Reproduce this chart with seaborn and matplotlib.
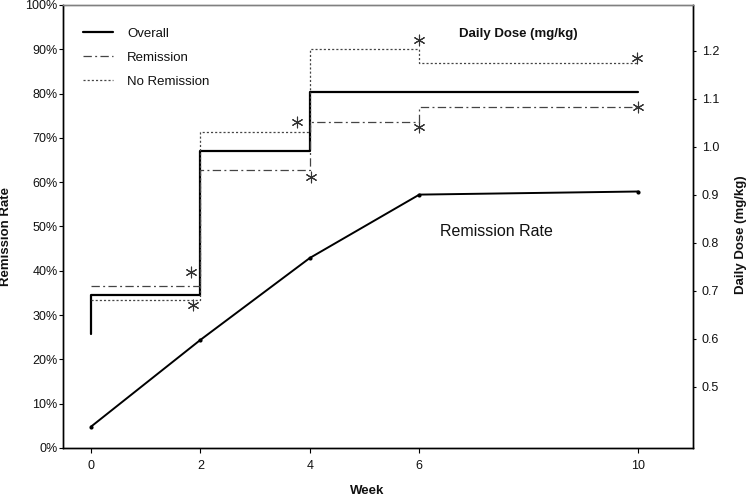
import matplotlib
matplotlib.use("Agg")
import matplotlib.pyplot as plt
from matplotlib.ticker import FuncFormatter
import seaborn as sns
import pandas as pd

# ---------------- data ----------------
weeks = [0, 2, 4, 6, 10]
remission_rate = [4.8, 24.4, 42.9, 57.2, 57.9]          # % (left axis)

overall_weeks = [0, 0, 2, 4, 6, 10]
dose_overall = [0.61, 0.69, 0.99, 1.114, 1.114, 1.114]  # mg/kg (right axis)
step_weeks = [0, 2, 4, 6, 10]
dose_remission = [0.71, 0.951, 1.051, 1.082, 1.082]
dose_no_remission = [0.68, 1.031, 1.203, 1.175, 1.175]

star_weeks = [1.82, 1.86, 3.77, 4.03, 6.0, 6.0, 9.97, 9.99]
star_dose = [0.739, 0.670, 1.052, 0.937, 1.222, 1.040, 1.184, 1.083]

x_ticks = [0, 2, 4, 6, 10]
rate_ticks = [0, 10, 20, 30, 40, 50, 60, 70, 80, 90, 100]
dose_ticks = [0.5, 0.6, 0.7, 0.8, 0.9, 1.0, 1.1, 1.2]
legend_labels = ["Overall", "Remission", "No Remission"]

# ---------------- style ----------------
sns.set_theme(style="white")
plt.rcParams["font.family"] = ["Liberation Sans", "DejaVu Sans"]
plt.rcParams["lines.scale_dashes"] = False

fig = plt.figure(figsize=(7.5, 4.96), dpi=100)
ax = fig.add_axes([63 / 750, 48 / 496, 630 / 750, 443 / 496])
ax2 = ax.twinx()

# remission rate (left axis)
df_rate = pd.DataFrame({"week": weeks, "rate": remission_rate})
sns.lineplot(data=df_rate, x="week", y="rate", ax=ax, color="black",
             linewidth=1.4, marker="o", markersize=3, markeredgewidth=0,
             estimator=None, sort=False, legend=False)

# dose step lines (right axis)
df_ov = pd.DataFrame({"week": overall_weeks, "dose": dose_overall})
df_rem = pd.DataFrame({"week": step_weeks, "dose": dose_remission})
df_nrem = pd.DataFrame({"week": step_weeks, "dose": dose_no_remission})

sns.lineplot(data=df_ov, x="week", y="dose", ax=ax2, color="black",
             linewidth=1.6, drawstyle="steps-post", estimator=None,
             sort=False, label=legend_labels[0], legend=False)
sns.lineplot(data=df_rem, x="week", y="dose", ax=ax2, color="#444444",
             linewidth=0.9, drawstyle="steps-post", estimator=None,
             sort=False, label=legend_labels[1], legend=False,
             linestyle=(0, (6, 2.4, 1.4, 2.4)))
sns.lineplot(data=df_nrem, x="week", y="dose", ax=ax2, color="#444444",
             linewidth=0.9, drawstyle="steps-post", estimator=None,
             sort=False, label=legend_labels[2], legend=False,
             linestyle=(0, (1.5, 1.5)))

# significance asterisks
df_star = pd.DataFrame({"week": star_weeks, "dose": star_dose})
sns.scatterplot(data=df_star, x="week", y="dose", ax=ax2, marker=(6, 2, 0),
                s=60, color="#333333", linewidth=0.8, legend=False)

# ---------------- axes ----------------
ax.set_xlim(-0.51, 11.0)
ax.set_ylim(0, 100)
ax2.set_ylim(0.372, 1.295)

ax.set_xticks(x_ticks)
ax.set_yticks(rate_ticks)
ax.yaxis.set_major_formatter(FuncFormatter(lambda v, p: f"{int(v)}%"))
ax2.set_yticks(dose_ticks)
ax2.yaxis.set_major_formatter(FuncFormatter(lambda v, p: f"{v:.1f}"))

ax.set_xlabel("")
ax.set_ylabel("")
ax2.set_xlabel("")
ax2.set_ylabel("")

for a in (ax, ax2):
    for side in ("left", "right", "bottom"):
        a.spines[side].set_color("black")
        a.spines[side].set_linewidth(1.0)
    a.spines["top"].set_color("#808080")
    a.spines["top"].set_linewidth(1.0)

ax.tick_params(axis="y", which="major", direction="out", length=3, width=0.8,
               color="black", pad=1, labelsize=9, left=True)
ax.tick_params(axis="x", which="major", direction="out", length=3.5, width=0.8,
               color="black", pad=5, labelsize=9, bottom=True)
ax2.tick_params(axis="y", which="major", direction="out", length=2.2, width=0.8,
                color="black", pad=4, labelsize=9, right=True)
for lab in ax.get_xticklabels() + ax.get_yticklabels() + ax2.get_yticklabels():
    lab.set_color("#111111")

# legend
handles = ax2.get_lines()[:3]
leg = ax2.legend(handles, legend_labels, loc="upper left",
                 bbox_to_anchor=((83 - 63) / 630, 0.949), frameon=False,
                 fontsize=9.5, handlelength=2.3, handletextpad=1.05,
                 labelspacing=0.9, borderpad=0, borderaxespad=0)
for t in leg.get_texts():
    t.set_color("#111111")

# annotations
ax.text((518 - 63) / 630, (448 - 34) / 443, "Daily Dose (mg/kg)",
        transform=ax.transAxes, ha="center", va="center",
        fontsize=9.5, fontweight="bold", color="#111111")
ax.text((496 - 63) / 630, (448 - 231) / 443, "Remission Rate",
        transform=ax.transAxes, ha="center", va="center",
        fontsize=11.5, color="#111111")

# axis titles
fig.text(6.5 / 750, 1 - 236 / 496, "Remission Rate", rotation=90,
         ha="center", va="center", fontsize=9.5, fontweight="bold",
         color="#111111")
fig.text(741 / 750, 1 - 235 / 496, "Daily Dose (mg/kg)", rotation=90,
         ha="center", va="center", fontsize=9.5, fontweight="bold",
         color="#111111")
fig.text(367 / 750, 1 - 491 / 496, "Week", ha="center", va="center",
         fontsize=9.5, fontweight="bold", color="#111111")

fig.savefig("out.png", dpi=100)
